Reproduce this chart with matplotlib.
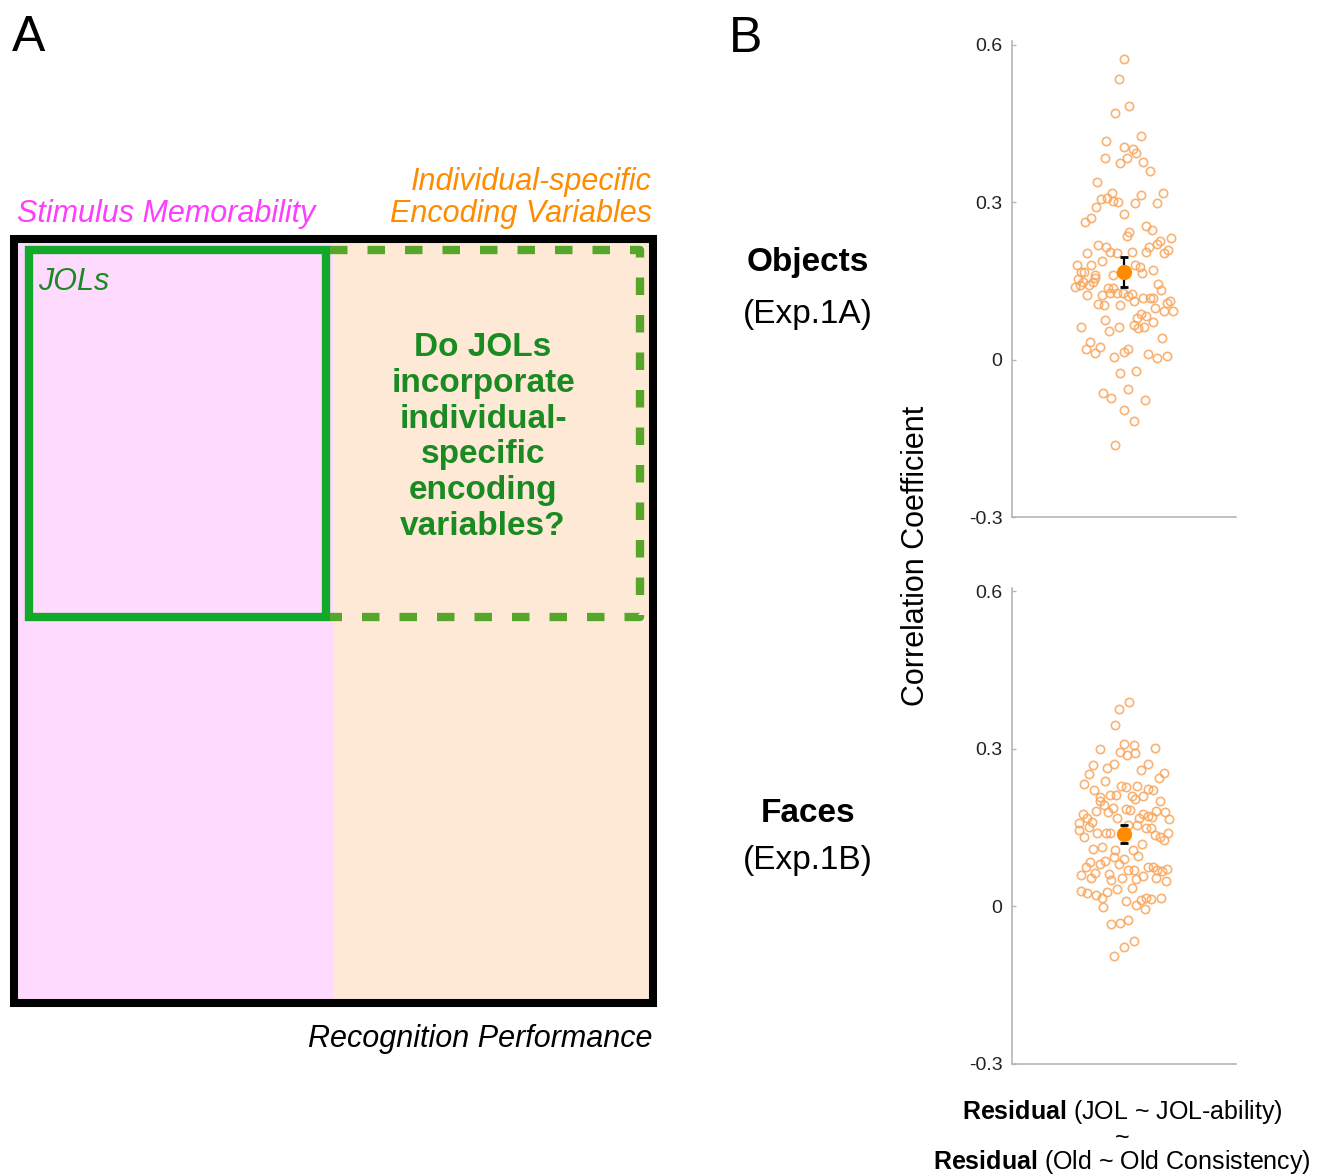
import matplotlib
matplotlib.use("Agg")
import matplotlib.pyplot as plt
from matplotlib.patches import Rectangle

plt.rcParams['font.family'] = ['Liberation Sans', 'DejaVu Sans']
plt.rcParams['mathtext.fontset'] = 'custom'
plt.rcParams['mathtext.rm'] = 'Liberation Sans'
plt.rcParams['mathtext.bf'] = 'Liberation Sans:bold'

# --- data (correlation per participant, horizontal jitter) ---
objects_r = [0.572, 0.534, 0.483, 0.469, 0.427, 0.417, 0.406, 0.401, 0.394, 0.384,
             0.384, 0.375, 0.377, 0.360, 0.338, 0.318, 0.306, 0.308, 0.302, 0.301,
             0.313, 0.318, 0.299, 0.299, 0.291, 0.278, 0.270, 0.262, 0.254, 0.247,
             0.243, 0.236, 0.231, 0.227, 0.221, 0.219, 0.214, 0.204, 0.206, 0.204,
             0.205, 0.206, 0.214, 0.209, 0.204, 0.180, 0.181, 0.189, 0.180, 0.176,
             0.170, 0.168, 0.168, 0.161, 0.162, 0.166, 0.156, 0.153, 0.148, 0.139,
             0.142, 0.143, 0.148, 0.144, 0.132, 0.124, 0.124, 0.136, 0.136, 0.127,
             0.127, 0.127, 0.121, 0.126, 0.111, 0.118, 0.118, 0.118, 0.106, 0.104,
             0.104, 0.108, 0.111, 0.099, 0.093, 0.092, 0.087, 0.083, 0.079, 0.076,
             0.062, 0.054, 0.062, 0.066, 0.060, 0.062, 0.071, 0.041, 0.034, 0.025,
             0.020, 0.013, 0.006, 0.014, 0.021, 0.011, 0.004, 0.008, -0.025, -0.022,
             -0.055, -0.064, -0.073, -0.076, -0.096, -0.117, -0.163]
objects_jit = [0.000, -0.047, 0.047, -0.076, 0.154, -0.157, 0.000, 0.076, 0.103, -0.166,
               0.031, -0.034, 0.169, 0.235, -0.238, -0.103, -0.202, -0.151, -0.100, -0.052,
               0.151, 0.348, 0.100, 0.298, -0.247, 0.000, -0.298, -0.352, 0.199, 0.249,
               0.049, 0.031, 0.423, 0.325, 0.291, -0.229, -0.163, -0.330, -0.127, -0.065,
               0.067, 0.193, 0.226, 0.390, 0.357, -0.423, -0.298, -0.196, 0.097, 0.139,
               0.258, -0.387, -0.361, -0.262, -0.097, 0.157, -0.256, -0.414, -0.370, -0.441,
               -0.390, -0.309, -0.280, 0.303, 0.334, -0.330, -0.199, -0.145, -0.097, -0.121,
               -0.065, -0.011, 0.038, 0.067, 0.091, 0.172, 0.229, 0.258, -0.229, -0.175,
               -0.040, 0.384, 0.414, 0.280, 0.357, 0.438, 0.148, 0.199, 0.115, -0.169,
               -0.387, -0.130, -0.047, 0.085, 0.127, 0.175, 0.256, 0.343, -0.300, -0.217,
               -0.343, -0.258, -0.085, 0.002, 0.040, 0.211, 0.298, 0.384, -0.038, 0.109,
               0.034, -0.184, -0.115, 0.184, 0.000, 0.085, -0.083]

faces_r = [0.390, 0.376, 0.345, 0.299, 0.310, 0.308, 0.294, 0.288, 0.292, 0.301,
           0.269, 0.271, 0.264, 0.271, 0.260, 0.253, 0.254, 0.244, 0.238, 0.234,
           0.230, 0.228, 0.230, 0.221, 0.224, 0.221, 0.212, 0.212, 0.211, 0.210,
           0.208, 0.204, 0.201, 0.193, 0.200, 0.188, 0.185, 0.184, 0.182, 0.179,
           0.181, 0.179, 0.176, 0.176, 0.172, 0.171, 0.169, 0.168, 0.167, 0.169,
           0.161, 0.159, 0.152, 0.156, 0.155, 0.150, 0.150, 0.146, 0.132, 0.139,
           0.139, 0.139, 0.136, 0.132, 0.127, 0.140, 0.119, 0.109, 0.113, 0.108,
           0.108, 0.095, 0.090, 0.096, 0.076, 0.084, 0.081, 0.086, 0.081, 0.060,
           0.064, 0.054, 0.062, 0.050, 0.054, 0.069, 0.069, 0.052, 0.058, 0.076,
           0.076, 0.069, 0.067, 0.071, 0.054, 0.048, 0.030, 0.026, 0.022, 0.017,
           0.027, 0.034, 0.036, -0.001, 0.010, 0.003, 0.012, 0.017, 0.015, -0.004,
           0.017, -0.034, -0.032, -0.025, -0.077, -0.066, -0.095]
faces_jit = [0.047, -0.047, -0.083, -0.217, 0.000, 0.088, -0.034, 0.029, 0.094, 0.276,
             -0.276, -0.091, -0.154, 0.213, 0.151, -0.309, 0.357, 0.312, -0.166, -0.361,
             -0.025, 0.022, 0.118, -0.265, 0.211, 0.262, -0.124, -0.074, 0.067, 0.169,
             -0.217, 0.097, -0.211, -0.175, 0.321, -0.094, 0.016, 0.058, -0.247, -0.139,
             0.285, 0.363, -0.366, 0.169, 0.211, 0.253, -0.061, 0.133, 0.405, -0.330,
             -0.289, -0.402, -0.309, 0.118, 0.038, 0.196, 0.238, -0.399, -0.361, -0.238,
             -0.157, -0.121, 0.274, 0.318, 0.357, 0.396, 0.160, -0.276, -0.199, -0.079,
             0.079, -0.085, 0.002, 0.127, -0.343, -0.300, -0.217, -0.172, -0.047, -0.387,
             -0.258, -0.291, -0.130, -0.112, -0.022, 0.038, 0.085, 0.109, 0.172, 0.211,
             0.256, 0.298, 0.343, 0.381, 0.285, 0.375, -0.381, -0.330, -0.247, -0.199,
             -0.154, -0.065, 0.067, -0.187, 0.022, 0.109, 0.154, 0.199, 0.244, 0.184,
             0.334, -0.115, -0.040, 0.034, 0.000, 0.085, -0.085]

objects_mean, objects_sem = 0.167, 0.029
faces_mean, faces_sem = 0.138, 0.017

ytick_vals = [-0.3, 0, 0.3, 0.6]
ytick_labels = ['-0.3', '0', '0.3', '0.6']

W, H = 1325, 1176
fig = plt.figure(figsize=(W / 100, H / 100), dpi=100)

# overlay in pixel coordinates for panel A and free text
ax0 = fig.add_axes([0, 0, 1, 1])
ax0.set_xlim(0, W)
ax0.set_ylim(H, 0)
ax0.axis('off')

green = '#12a82a'
dgreen = '#1a8a23'
ax0.add_patch(Rectangle((14, 239), 319, 764, fc='#ffdaff', ec='none'))
ax0.add_patch(Rectangle((333, 239), 320, 764, fc='#fde9d6', ec='none'))
ax0.add_patch(Rectangle((14, 239), 639, 764, fill=False, ec='black', lw=5.8, joinstyle='miter'))
ax0.add_patch(Rectangle((29, 250), 297, 367, fill=False, ec=green, lw=6, joinstyle='miter'))
ax0.plot([330, 640, 640, 330], [250, 250, 617, 617], color='#55a62a', lw=6,
         ls=(0, (2.1, 2.4)), solid_capstyle='butt', dash_capstyle='butt')

ax0.text(12, 51, 'A', fontsize=36, va='baseline', ha='left')
ax0.text(729, 52, 'B', fontsize=36, va='baseline', ha='left')
ax0.text(17, 214, 'Stimulus Memorability', fontsize=22, style='italic',
         color='#ff3dff', va='center', ha='left')
ax0.text(652, 182, 'Individual-specific', fontsize=22, style='italic',
         color='#ff8c00', va='center', ha='right')
ax0.text(652, 214, 'Encoding Variables', fontsize=22, style='italic',
         color='#ff8c00', va='center', ha='right')
ax0.text(38, 282, 'JOLs', fontsize=22, style='italic', color=dgreen, va='center', ha='left')
ax0.text(483, 437, 'Do JOLs\nincorporate\nindividual-\nspecific\nencoding\nvariables?',
         fontsize=24, fontweight='bold', color=dgreen, va='center', ha='center',
         multialignment='center', linespacing=1.2)
ax0.text(652, 1039, 'Recognition Performance', fontsize=22, style='italic',
         va='center', ha='right')

ax0.text(808, 263, 'Objects', fontsize=24, fontweight='bold', va='center', ha='center')
ax0.text(808, 314, '(Exp.1A)', fontsize=24, va='center', ha='center')
ax0.text(808, 814, 'Faces', fontsize=24, fontweight='bold', va='center', ha='center')
ax0.text(808, 860, '(Exp.1B)', fontsize=24, va='center', ha='center')
ax0.text(916, 556, 'Correlation Coefficient', fontsize=22, rotation=90,
         va='center', ha='center')

ax0.text(1122, 1112, r'$\mathbf{Residual}$ (JOL ~ JOL-ability)', fontsize=18,
         va='center', ha='center')
ax0.text(1122, 1138, '~', fontsize=18, va='center', ha='center')
ax0.text(1122, 1162, r'$\mathbf{Residual}$ (Old ~ Old Consistency)', fontsize=18,
         va='center', ha='center')


def swarm(ax, r, jit, mean, sem):
    ax.plot([1 + j for j in jit], r, 'o', ms=6, mfc='none', mec='#f9a55a',
            mew=1.2, alpha=0.85, zorder=2)
    ax.errorbar([1], [mean], yerr=[sem], fmt='o', ms=10, color='#ff8c00',
                ecolor='black', elinewidth=1.6, capsize=3, capthick=2, zorder=3)
    ax.set_xlim(0, 2)
    ax.set_ylim(-0.3, 0.607)
    ax.set_yticks(ytick_vals)
    ax.set_yticklabels(ytick_labels)
    ax.set_xticks([])
    for s in ['top', 'right']:
        ax.spines[s].set_visible(False)
    for s in ['left', 'bottom']:
        ax.spines[s].set_color('#b5b5b5')
        ax.spines[s].set_linewidth(1.2)
    ax.tick_params(axis='y', direction='in', length=3, width=1, color='#b5b5b5',
                   labelsize=14, labelcolor='#222222', pad=7)
    ax.patch.set_alpha(0)


ax1 = fig.add_axes([1012 / W, 1 - 517.3 / H, 224 / W, 476.3 / H])
swarm(ax1, objects_r, objects_jit, objects_mean, objects_sem)
ax2 = fig.add_axes([1012 / W, 1 - 1064 / H, 224 / W, 476.3 / H])
swarm(ax2, faces_r, faces_jit, faces_mean, faces_sem)

fig.savefig('out.png', dpi=100)
